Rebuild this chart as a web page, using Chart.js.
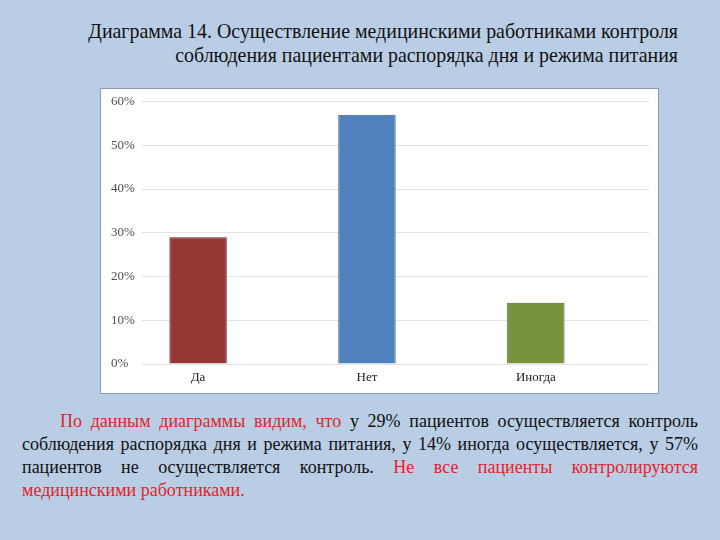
<!DOCTYPE html>
<html>
<head>
<meta charset="utf-8">
<script src="https://cdn.jsdelivr.net/npm/chart.js@4"></script>
<style>
  body { margin: 0; background: #b9cde5; width: 720px; height: 540px; overflow: hidden;
         font-family: "Liberation Serif", "Times New Roman", serif; }
  #title { position: absolute; right: 42px; top: 19px; text-align: right;
           font-size: 19.9px; line-height: 24px; color: #111; }
  #box { position: absolute; left: 100px; top: 88px; width: 557px; height: 304px;
         background: #fff; border: 1px solid #8a9ab0; }
  #text { position: absolute; left: 22px; width: 676px; top: 410px;
          font-size: 18px; line-height: 23px; color: #111; }
  #text div { text-align: justify; text-align-last: justify; }
  #text div.last { text-align-last: left; }
  .red { color: #e2252c; }
</style>
</head>
<body>
<div id="title">Диаграмма 14. Осуществление медицинскими работниками контроля<br>соблюдения пациентами распорядка дня и режима питания</div>
<div id="box"><canvas id="answersChart"></canvas></div>
<div id="text">
  <div style="text-indent: 38px"><span class="red">По данным диаграммы видим, что</span> у 29% пациентов осуществляется контроль</div>
  <div>соблюдения распорядка дня и режима питания, у 14% иногда осуществляется, у 57%</div>
  <div>пациентов не осуществляется контроль. <span class="red">Не все пациенты контролируются</span></div>
  <div class="last red">медицинскими работниками.</div>
</div>
<script>
var categories = ['Да', 'Нет', 'Иногда'];
var values = [29, 57, 14];
var yTicks = [0, 10, 20, 30, 40, 50, 60];

var serif = "'Liberation Serif', 'Times New Roman', serif";
var canvasElement = document.getElementById('answersChart');
var config = {
  type: 'bar',
  data: {
    datasets: [
      {
        data: values.map(function (v, i) { return { x: i, y: v }; }),
        backgroundColor: ['#953735', '#4f81bd', '#77933c'],
        borderColor: ['#5e2221', '#385d8a', '#4f6228'],
        borderWidth: 1,
        categoryPercentage: 1,
        barPercentage: 0.34,
      },
    ],
  },
  options: {
    responsive: false,
    animation: false,
    layout: { padding: { top: 10, right: 9, left: 10, bottom: 0 } },
    plugins: { legend: { display: false }, tooltip: { enabled: false } },
    scales: {
      x: {
        type: 'linear',
        offset: false,
        min: -0.332,
        max: 2.67,
        afterBuildTicks: function (scale) {
          scale.ticks = categories.map(function (c, i) { return { value: i }; });
        },
        grid: { display: false, drawTicks: false },
        border: { display: false },
        ticks: {
          color: '#222',
          padding: 7,
          font: { family: serif, size: 13, lineHeight: 1 },
          callback: function (v) { return categories[v]; },
        },
        afterFit: function (scale) { scale.height = 29; },
      },
      y: {
        min: 0,
        max: 60,
        afterBuildTicks: function (scale) {
          scale.ticks = yTicks.map(function (v) { return { value: v }; });
        },
        grid: { color: '#e3e3e3', drawTicks: false },
        border: { display: false },
        ticks: {
          color: '#505050',
          padding: 6,
          crossAlign: 'far',
          font: { family: serif, size: 13, lineHeight: 1 },
          callback: function (v) { return v + '%'; },
        },
        afterFit: function (scale) { scale.width = 31; },
      },
    },
  },
};

canvasElement.width = 557;
canvasElement.height = 304;
var answersChart = new Chart(canvasElement, config);
</script>
</body>
</html>
